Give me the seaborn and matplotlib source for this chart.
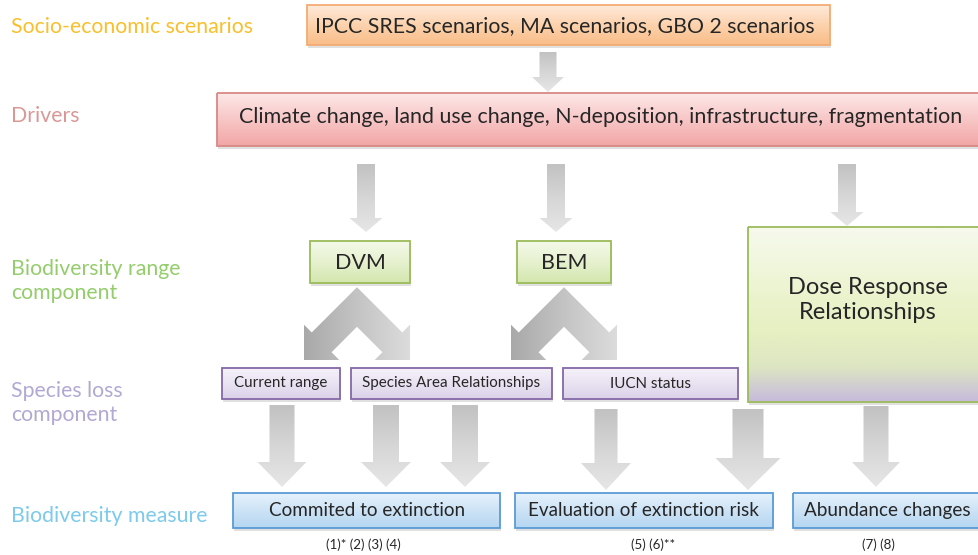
"""Flow chart: scenarios -> drivers -> biodiversity models -> measures"""
import numpy as np
import seaborn as sns
import matplotlib.pyplot as plt
from matplotlib.patches import Rectangle, Polygon

# ---- chart content -------------------------------------------------------
stage_labels = ["Socio-economic scenarios", "Drivers",
                "Biodiversity range\ncomponent", "Species loss\ncomponent",
                "Biodiversity measure"]
scenario_text = "IPCC SRES scenarios, MA scenarios, GBO 2 scenarios"
driver_text = ("Climate change, land use change, N-deposition, "
               "infrastructure, fragmentation")
range_models = ["DVM", "BEM", "Dose Response\nRelationships"]
loss_components = ["Current range", "Species Area Relationships", "IUCN status"]
measures = ["Commited to extinction", "Evaluation of extinction risk",
            "Abundance changes"]
references = ["(1)* (2) (3) (4)", "(5) (6)**", "(7) (8)"]

# ---- layout (pixel space of a 979 x 555 canvas) ---------------------------
stage_y = [27, 116, 281, 403, 516]
stage_colors = ["#f9bf2c", "#d99896", "#94cd6c", "#b1a9d3", "#7ccaec"]

sns.set_theme(style="white")
plt.rcParams["font.family"] = ["Lato", "DejaVu Sans"]
TXT = "#262626"

fig = plt.figure(figsize=(9.79, 5.55), dpi=100)
ax = fig.add_axes([0, 0, 1, 1])


def grad_box(x0, y0, w, h, colors, edge, shadow=True, z=2):
    if shadow:
        ax.add_patch(Rectangle((x0 + 1.5, y0 + 2.5), w, h, fc="#c8c8c8",
                               ec="none", alpha=0.55, zorder=z - 0.5))
    cols = np.array(sns.blend_palette(colors, 80))[:, None, :]
    ax.imshow(cols, extent=(x0, x0 + w, y0 + h, y0), origin="upper",
              aspect="auto", interpolation="bilinear", zorder=z)
    ax.add_patch(Rectangle((x0, y0), w, h, fc="none", ec=edge, lw=1.3,
                           zorder=z + 0.2))


def grad_poly(verts, colors, horizontal=False, z=1):
    verts = np.asarray(verts)
    patch = Polygon(verts, closed=True, fc="none", ec="none", zorder=z)
    ax.add_patch(patch)
    cols = np.array(sns.blend_palette(colors, 80))
    cols = cols[None, :, :] if horizontal else cols[:, None, :]
    x0, y0 = verts.min(axis=0)
    x1, y1 = verts.max(axis=0)
    im = ax.imshow(cols, extent=(x0, x1, y1, y0), origin="upper",
                   aspect="auto", interpolation="bilinear", zorder=z)
    im.set_clip_path(patch)


def down_arrow(cx, top, tip, shaft, head, head_len):
    hs = tip - head_len
    v = [(cx - shaft / 2, top), (cx + shaft / 2, top), (cx + shaft / 2, hs),
         (cx + head / 2, hs), (cx, tip), (cx - head / 2, hs),
         (cx - shaft / 2, hs)]
    grad_poly(v, ["#c2c2c2", "#d6d6d6", "#e6e6e6"])


def split_arrow(cx, cy, a=14, L=75, b=25, h=25):
    s = np.sqrt(2)
    C = np.array([cx, cy])
    dl, dr = np.array([-1, 1]) / s, np.array([1, 1]) / s
    nl, nr = np.array([-1, -1]) / s, np.array([1, -1]) / s
    v = [C + [0, -a * s],
         C + a * nr + (L - h) * dr, C + b * nr + (L - h) * dr, C + L * dr,
         C - b * nr + (L - h) * dr, C - a * nr + (L - h) * dr,
         C + [0, a * s],
         C - a * nl + (L - h) * dl, C - b * nl + (L - h) * dl, C + L * dl,
         C + b * nl + (L - h) * dl, C + a * nl + (L - h) * dl]
    grad_poly(v, ["#a9a9a9", "#c4c4c4", "#dcdcdc"], horizontal=True)


# stage labels on the left
for lab, y, c in zip(stage_labels, stage_y, stage_colors):
    ax.text(11, y, lab, color=c, fontsize=15.3, ha="left", va="center",
            linespacing=1.2)

# scenarios and drivers
grad_box(307, 5, 523, 40, ["#feeadb", "#fcd2ad", "#f9bd88"], "#f3ab74")
ax.text(565, 26, scenario_text, fontsize=15.3, color=TXT, ha="center",
        va="center")
down_arrow(548, 52, 92, 17, 32, 15)
grad_box(217, 93, 800, 53, ["#fde8e8", "#f8c6c6", "#f2a6a6"], "#d88886")
ax.text(601, 117, driver_text, fontsize=15.4, color=TXT, ha="center",
        va="center")

# driver arrows
for cx, tip in zip([366, 556, 847], [232, 232, 226]):
    down_arrow(cx, 164, tip, 18, 33, 14)

# range models
green = ["#f4f9e9", "#e6f1cf", "#d4e7ae"]
range_boxes = [(310, 241, 100, 42), (517, 241, 94, 42)]
for (x, y, w, h), lab in zip(range_boxes, range_models[:2]):
    grad_box(x, y, w, h, green, "#9bbb59")
    ax.text(x + w / 2, y + h / 2 + 1, lab, fontsize=15.5, color=TXT,
            ha="center", va="center")
grad_box(748, 227, 260, 175,
         ["#f6f9ec", "#f1f7de", "#ebf3cd", "#e6f0c2", "#dde6c2", "#c7bcdb"],
         "#9bbb59")
ax.text(868, 300, range_models[2], fontsize=17, color=TXT, ha="center",
        va="center", linespacing=1.25)

# split arrows below DVM and BEM
split_arrow(357, 307)
split_arrow(564, 307)

# species loss components
purple = ["#f5f1f9", "#e9e3f2", "#dbd2e9"]
loss_boxes = [(222, 368, 118, 31), (351, 368, 201, 31), (563, 368, 175, 31)]
for (x, y, w, h), lab in zip(loss_boxes, loss_components):
    grad_box(x, y, w, h, purple, "#8468a8")
    ax.text(x + w / 2, y + h / 2, lab, fontsize=10.9, color=TXT,
            ha="center", va="center")

# arrows down to measures
for cx, sw, hw, top, hs, tip in [(282, 25, 49, 405, 462, 487),
                                 (386, 26, 50, 405, 462, 487),
                                 (465, 26, 50, 405, 462, 487),
                                 (606, 23, 50, 409, 463, 490),
                                 (748, 31, 65, 409, 458, 490),
                                 (876, 25, 48, 406, 462, 487)]:
    down_arrow(cx, top, tip, sw, hw, tip - hs)

# biodiversity measures
blue = ["#e6f2fc", "#cde3f6", "#b5d6f1"]
measure_boxes = [(233, 493, 267, 35), (515, 493, 258, 35), (793, 493, 200, 35)]
label_x = [367, 643, 887]
ref_x = [363, 653, 878]
for (x, y, w, h), lab, lx, ref, rx in zip(measure_boxes, measures, label_x,
                                          references, ref_x):
    grad_box(x, y, w, h, blue, "#5a9bd6")
    ax.text(lx, y + h / 2, lab, fontsize=13.6, color=TXT,
            ha="center", va="center")
    ax.text(rx, 545, ref, fontsize=9.6, color=TXT, ha="center", va="center")

ax.set_xlim(0, 979)
ax.set_ylim(555, 0)
ax.axis("off")
fig.savefig("out.png", dpi=100, facecolor="white")
plt.close(fig)
